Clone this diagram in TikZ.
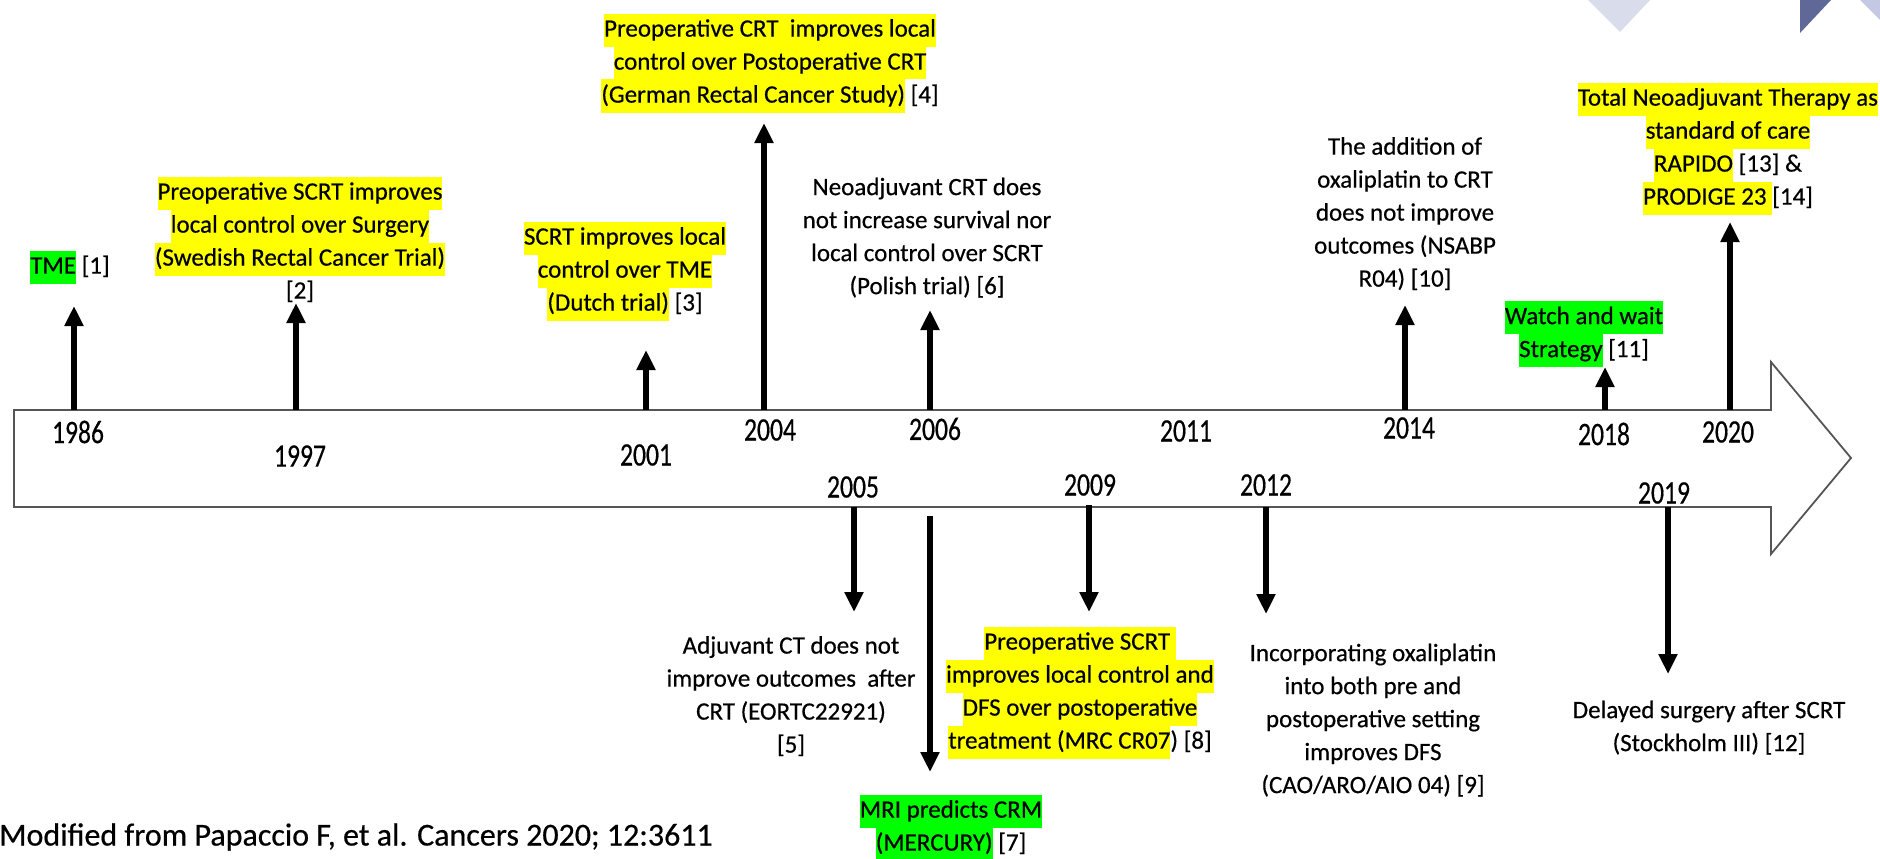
\documentclass[tikz,border=0pt]{standalone}
\usepackage{fontspec}
\setmainfont{Carlito}[FakeBold=0.5]
\usetikzlibrary{arrows.meta}
\definecolor{hly}{RGB}{255,255,0}
\definecolor{hlg}{RGB}{0,255,0}
\definecolor{triA}{RGB}{217,220,235}
\definecolor{triB}{RGB}{96,104,152}
\definecolor{triC}{RGB}{197,200,226}
\definecolor{barline}{RGB}{85,85,85}
\newcommand{\hy}[1]{{\setlength{\fboxsep}{0pt}\colorbox{hly}{\strut #1}}}
\newcommand{\hg}[1]{{\setlength{\fboxsep}{0pt}\colorbox{hlg}{\strut #1}}}
\tikzset{
  desc/.style={align=center, inner sep=0pt, font=\fontsize{25}{33}\selectfont},
  year/.style={inner sep=0pt, font=\fontsize{25.6}{30}\selectfont},
  evarrow/.style={line width=6pt, -{Triangle[length=20pt,width=18pt]}},
  bar/.style={draw=barline, line width=1.8pt, fill=white, line join=miter},
}
\newcommand{\yr}[1]{\scalebox{1}[1.28]{#1}}
\begin{document}
\begin{tikzpicture}[x=1pt,y=-1pt]
\useasboundingbox (0,0) rectangle (1880,859);
% decorative corner shapes
\fill[triA] (1588,0) -- (1650,0) -- (1620,32) -- cycle;
\fill[triB] (1800,0) -- (1800,33) -- (1831,0) -- cycle;
\fill[triC] (1860,0) -- (1880,0) -- (1880,20) -- cycle;
% timeline bar
\draw[bar] (14,410) -- (1771,410) -- (1771,362) -- (1851,458) -- (1771,554) -- (1771,507) -- (14,507) -- cycle;
% anchor points on the bar
\coordinate (b1986) at (74,410);   \coordinate (t1986) at (74,306);
\coordinate (b1997) at (296,410);  \coordinate (t1997) at (296,303);
\coordinate (b2001) at (646,410);  \coordinate (t2001) at (646,350);
\coordinate (b2004) at (764,410);  \coordinate (t2004) at (764,123);
\coordinate (b2006) at (930,410);  \coordinate (t2006) at (930,310);
\coordinate (b2014) at (1405,410); \coordinate (t2014) at (1405,305);
\coordinate (b2018) at (1605,410); \coordinate (t2018) at (1605,367);
\coordinate (b2020) at (1730,410); \coordinate (t2020) at (1730,222);
\coordinate (b2005) at (854,507);  \coordinate (t2005) at (854,612);
\coordinate (bMRI) at (930,516);   \coordinate (tMRI) at (930,772);
\coordinate (b2009) at (1089,505); \coordinate (t2009) at (1089,612);
\coordinate (b2012) at (1266,507); \coordinate (t2012) at (1266,614);
\coordinate (b2019) at (1668,507); \coordinate (t2019) at (1668,674);
% arrows
\foreach \k in {1986,1997,2001,2004,2006,2014,2018,2020,2005,MRI,2009,2012,2019}
  \draw[evarrow] (b\k) -- (t\k);
% year labels
\node[year] (y1986) at (78,432)   {\yr{1986}};
\node[year] (y1997) at (300,456)  {\yr{1997}};
\node[year] (y2001) at (646,455)  {\yr{2001}};
\node[year] (y2004) at (770,430)  {\yr{2004}};
\node[year] (y2006) at (935,429)  {\yr{2006}};
\node[year] (y2011) at (1186,431) {\yr{2011}};
\node[year] (y2014) at (1409,428) {\yr{2014}};
\node[year] (y2018) at (1604,434) {\yr{2018}};
\node[year] (y2020) at (1728,432) {\yr{2020}};
\node[year] (y2005) at (853,487)  {\yr{2005}};
\node[year] (y2009) at (1090,485) {\yr{2009}};
\node[year] (y2012) at (1266,485) {\yr{2012}};
\node[year] (y2019) at (1664,493) {\yr{2019}};
% event texts above
\node[desc] (e1986) at (70,267) {\hg{TME} [1]};
\node[desc] (e1997) at (300,242.5) {\hy{Preoperative SCRT improves}\\\hy{local control over Surgery}\\\hy{(Swedish Rectal Cancer Trial)}\\\strut[2]};
\node[desc] (e2001) at (625,271) {\hy{SCRT improves local}\\\hy{control over TME}\\\hy{(Dutch trial)} [3]};
\node[desc] (e2004) at (770,63) {\hy{Preoperative CRT\ \ improves local}\\\hy{control over Postoperative CRT}\\\hy{(German Rectal Cancer Study)} [4]};
\node[desc] (e2006) at (927,238) {\strut Neoadjuvant CRT does\\\strut not increase survival nor\\\strut local control over SCRT\\\strut(Polish trial) [6]};
\node[desc] (e2014) at (1405,214) {\strut The addition of\\\strut oxaliplatin to CRT\\\strut does not improve\\\strut outcomes (NSABP\\\strut R04) [10]};
\node[desc] (e2018) at (1584,334) {\hg{Watch and wait}\\\hg{Strategy} [11]};
\node[desc] (e2020) at (1728,148.5) {\hy{Total Neoadjuvant Therapy as}\\\hy{standard of care}\\\hy{RAPIDO} [13] \&\\\hy{PRODIGE 23 }[14]};
% event texts below
\node[desc] (e2005) at (791,696.5) {\strut Adjuvant CT does not\\\strut improve outcomes\ \ after\\\strut CRT (EORTC22921)\\\strut[5]};
\node[desc] (eMRI) at (951,827.5) {\hg{MRI predicts CRM}\\\hg{(MERCURY)} [7]};
\node[desc] (e2009) at (1080,692.5) {\hy{Preoperative SCRT }\\\hy{improves local control and}\\\hy{DFS over postoperative}\\\hy{treatment (MRC CR07}) [8]};
\node[desc] (e2012) at (1373,720.5) {\strut Incorporating oxaliplatin\\\strut into both pre and\\\strut postoperative setting\\\strut improves DFS\\\strut(CAO/ARO/AIO 04) [9]};
\node[desc] (e2019) at (1709,728) {\strut Delayed surgery after SCRT\\\strut(Stockholm III) [12]};
% source note
\node[anchor=west, inner sep=0pt, font=\fontsize{32}{38}\selectfont] (src) at (-1,837) {Modified from Papaccio F, et al. Cancers 2020; 12:3611};
\end{tikzpicture}
\end{document}
